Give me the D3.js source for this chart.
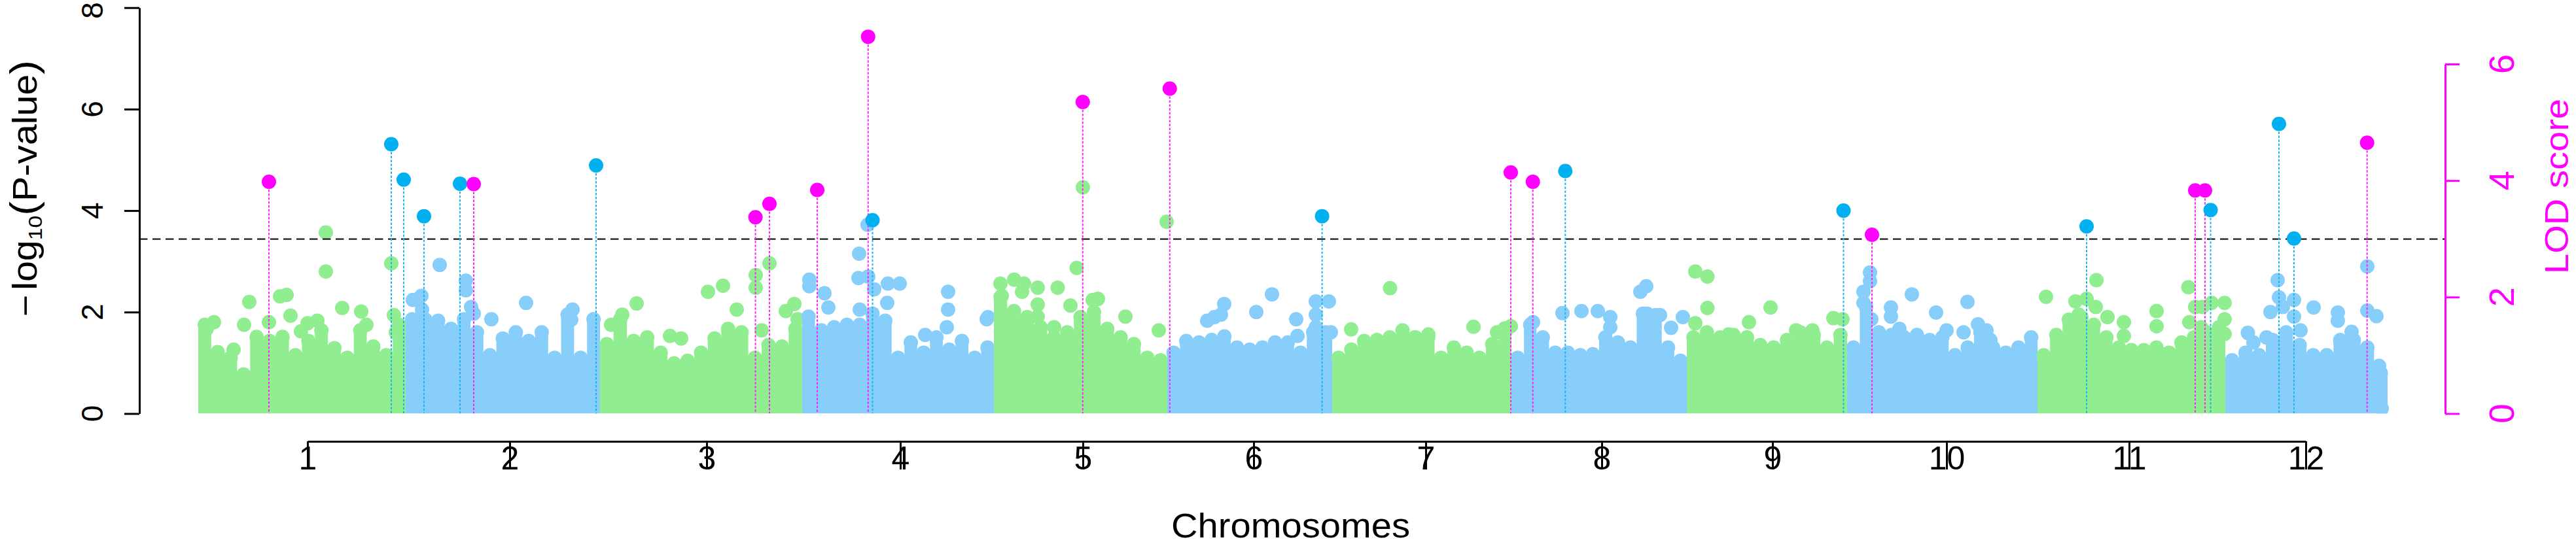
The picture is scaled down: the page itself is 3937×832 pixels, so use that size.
<!DOCTYPE html>
<html>
<head>
<meta charset="utf-8">
<script src="https://cdn.jsdelivr.net/npm/d3@7/dist/d3.min.js"></script>
<style>
html,body{margin:0;padding:0;background:#fff;}
svg{display:block;}
text{font-family:"Liberation Sans",Arial,Helvetica,sans-serif;}
</style>
</head>
<body>
<svg id="chart" width="3937" height="832"></svg>
<script>
// ---------------- DATA ----------------
const chromosomes = ["1","2","3","4","5","6","7","8","9","10","11","12"];
const chrLengths = [31.7, 29.7, 30.9, 29.3, 26.5, 25.2, 27.4, 26.8, 24.5, 29.1, 28.7, 24.8];
const chrTickPos = [16.7, 47.6, 77.7, 107.3, 135.2, 161.3, 187.6, 214.5, 240.6, 267.2, 295.1, 322.1];
const yTicks = [0, 2, 4, 6, 8];
const lodTicks = [0, 2, 4, 6];
const threshold = 3.44;

// upper edge of the dense SNP cloud (-log10 P), evenly spaced along each chromosome
const env1 = [1.75,1.21,1.10,0.77,1.51,1.43,1.51,1.15,1.43,1.64,1.29,1.10,1.64,1.32,1.15,1.75];
const env2 = [1.86,1.86,1.83,1.67,1.86,1.60,1.15,1.48,1.60,1.43,1.60,1.10,1.95,1.10,1.86];
const env3 = [1.37,1.86,1.43,1.50,1.20,0.99,1.04,1.20,1.48,1.67,1.60,1.10,1.35,1.32,1.67];
const env4 = [1.91,1.64,1.70,1.75,1.75,1.97,1.83,1.10,1.40,1.20,1.50,1.26,1.43,1.10,1.30];
const env5 = [2.30,2.02,1.90,1.70,1.50,1.60,1.90,2.00,1.67,1.50,1.37,1.10,1.05];
const env6 = [1.20,1.43,1.40,1.45,1.52,1.30,1.26,1.30,1.40,1.40,1.20,1.60,1.60];
const env7 = [1.10,1.26,1.43,1.45,1.50,1.50,1.50,1.50,1.10,1.30,1.20,1.10,1.37,1.60];
const env8 = [1.10,1.75,1.50,1.20,1.20,1.15,1.17,1.50,1.40,1.30,1.97,1.94,1.30,1.04];
const env9 = [1.50,1.60,1.50,1.55,1.50,1.35,1.30,1.45,1.60,1.55,1.30,1.55];
const env10 = [1.30,2.10,1.60,1.55,1.50,1.55,1.45,1.50,1.15,1.30,1.60,1.30,1.20,1.30,1.50];
const env11 = [1.15,1.55,1.85,1.90,1.75,1.50,1.30,1.25,1.25,1.30,1.20,1.40,1.50,1.60,1.70];
const env12 = [1.05,1.20,1.15,1.45,1.60,1.35,1.15,1.15,1.45,1.45,1.30,0.80];

// individual SNPs standing out of the cloud: [position within chromosome, -log10 P]
const pts1 = [[1.3,1.67],[2.4,1.80],[5.4,1.26],[7.0,1.75],[7.8,2.20],[10.8,1.80],[12.5,2.31],[13.5,2.34],[14.1,1.93],[15.7,1.62],[16.7,1.78],[18.2,1.83],[19.5,3.57],[19.5,2.80],[22.0,2.08],[24.9,2.01],[25.7,1.75],[29.5,2.96],[29.9,1.94],[30.2,1.60]];
const pts2 = [[1.1,2.24],[2.4,2.32],[2.5,2.05],[5.2,2.93],[9.2,2.62],[9.2,2.43],[10.0,2.10],[10.4,1.97],[13.1,1.86],[18.4,2.18],[25.5,2.05],[25.3,1.85]];
const pts3 = [[1.7,1.75],[3.4,1.95],[5.6,2.17],[10.7,1.53],[12.4,1.48],[16.5,2.40],[18.8,2.52],[20.9,2.05],[23.8,2.73],[23.8,2.48],[24.7,1.64],[25.9,2.96],[28.4,2.02],[29.7,2.16],[30.2,1.86]];
const pts4 = [[1.1,2.64],[1.1,2.51],[3.4,2.37],[4.0,2.09],[8.6,2.67],[8.7,3.15],[10.0,3.72],[10.1,2.70],[11.0,2.45],[8.8,2.05],[13.1,2.56],[14.9,2.56],[13.0,2.18],[22.3,2.40],[22.3,2.05],[22.1,1.70],[28.2,1.86],[18.8,1.55],[28.4,1.90]];
const pts5 = [[1.0,2.56],[1.2,2.32],[3.1,2.64],[4.6,2.56],[4.3,2.40],[6.7,2.48],[6.7,2.15],[6.7,1.91],[9.75,2.48],[12.65,2.87],[13.6,4.46],[15.1,2.24],[15.9,2.26],[20.1,1.91],[25.2,1.64],[11.7,2.13],[9.2,1.70],[26.4,3.78]];
const pts6 = [[6.1,1.83],[7.2,1.90],[8.7,2.16],[8.2,1.95],[13.6,2.00],[16.0,2.35],[19.7,1.86],[19.9,1.53],[22.7,2.21],[22.7,1.95],[22.7,1.70],[24.7,2.21],[25.0,1.60]];
const pts7 = [[2.9,1.66],[8.85,2.47],[10.75,1.64],[12.6,1.50],[14.7,1.56],[21.6,1.71],[25.2,1.60],[26.4,1.68],[27.3,1.72]];
const pts8 = [[3.3,1.80],[7.8,1.98],[10.7,2.02],[13.2,2.02],[15.1,1.90],[15.1,1.70],[19.7,2.40],[20.6,2.51],[20.7,1.97],[22.7,1.94],[24.4,1.69],[26.2,1.90]];
const pts9 = [[1.3,2.80],[3.15,2.70],[3.15,2.08],[1.3,1.78],[9.5,1.80],[12.8,2.09],[16.7,1.64],[19.2,1.64],[22.4,1.88],[23.8,1.86],[6.4,1.56]];
const pts10 = [[2.5,2.40],[2.5,2.18],[3.5,2.78],[3.5,2.61],[3.7,1.86],[6.7,2.09],[6.7,1.91],[9.9,2.35],[8.0,1.67],[13.6,1.99],[15.2,1.64],[17.8,1.60],[18.4,2.20],[20.0,1.76],[21.3,1.64],[21.9,1.45]];
const pts11 = [[1.3,2.30],[5.8,2.21],[7.5,2.26],[9.0,2.63],[8.9,2.10],[6.3,1.95],[10.7,1.90],[13.2,1.80],[13.2,1.53],[18.2,2.02],[18.2,1.72],[23.05,2.49],[24.1,2.10],[25.2,2.10],[26.6,2.18],[23.2,1.80],[25.0,1.70],[28.6,2.18],[28.6,1.86],[28.6,1.57]];
const pts12 = [[3.45,1.59],[4.3,1.40],[6.3,1.50],[6.9,2.00],[8.0,2.63],[8.2,2.29],[8.8,2.10],[10.5,2.24],[10.5,1.91],[11.5,1.64],[13.5,2.09],[17.2,1.99],[17.2,1.83],[19.3,1.61],[21.7,2.90],[21.7,2.03],[23.1,1.92],[23.5,0.94],[23.7,0.58],[23.9,0.10]];

// significant GWAS SNPs: [chromosome, position, -log10 P]
const gwasHits = [[1,29.5,5.31],[1,31.4,4.61],[2,2.8,3.89],[2,8.3,4.53],[2,29.1,4.89],[4,10.75,3.81],[6,23.66,3.89],[8,8.23,4.78],[9,23.95,4.00],[11,7.5,3.69],[11,26.46,4.01],[12,8.2,5.71],[12,10.5,3.45]];
// QTL peaks on the LOD axis: [chromosome, position, LOD]
const lodPeaks = [[1,10.8,3.98],[2,10.4,3.94],[3,23.76,3.37],[3,25.9,3.60],[4,2.3,3.84],[4,10.08,6.47],[5,13.58,5.35],[6,0.38,5.58],[7,27.3,4.14],[8,3.27,3.98],[10,3.8,3.07],[11,24.1,3.83],[11,25.6,3.83],[12,21.67,4.65]];

const envelopes = [env1,env2,env3,env4,env5,env6,env7,env8,env9,env10,env11,env12];
const scattered = [pts1,pts2,pts3,pts4,pts5,pts6,pts7,pts8,pts9,pts10,pts11,pts12];

// ---------------- STYLE ----------------
const colOdd = "#90EE90", colEven = "#87CEFA";
const colHit = "#00B0F0", colLod = "#FF00FF";
const R = 11;

// ---------------- SCALES ----------------
const svg = d3.select("#chart");
const plotL = 213, plotR = 3737, plotT = 11.7, plotB = 632.5;
const chrStarts = [];
chrLengths.reduce((acc, l) => { chrStarts.push(acc); return acc + l; }, 0);
const total = d3.sum(chrLengths);
const x = d3.scaleLinear().domain([0, total]).range([303, 3649]);
const y = d3.scaleLinear().domain([0, 8]).range([plotB, plotT]);
const yLod = d3.scaleLinear().domain([0, 6]).range([plotB, 98]);
const gx = (c, p) => x(chrStarts[c - 1] + p);

svg.append("defs").append("clipPath").attr("id", "plotclip")
  .append("rect").attr("x", plotL).attr("y", plotT).attr("width", plotR - plotL).attr("height", plotB - plotT);

const gPlot = svg.append("g").attr("clip-path", "url(#plotclip)");

// ---------------- SNP CLOUD ----------------
const area = d3.area().x(d => d[0]).y0(y(0)).y1(d => y(d[1])).curve(d3.curveStep);
envelopes.forEach((env, i) => {
  const col = i % 2 === 0 ? colOdd : colEven;
  const len = chrLengths[i], n = env.length;
  const samples = env.map((v, k) => [chrStarts[i] + (k + 0.5) * len / n, v]);
  const areaPts = [[x(chrStarts[i]), env[0]]]
    .concat(samples.map(s => [x(s[0]), s[1]]))
    .concat([[x(chrStarts[i] + len), env[n - 1]]]);
  const g = gPlot.append("g").attr("fill", col);
  g.append("path").attr("d", area(areaPts));
  g.selectAll("circle.env").data(samples).join("circle")
    .attr("cx", d => x(d[0])).attr("cy", d => y(d[1])).attr("r", R);
  g.selectAll("circle.pt").data(scattered[i]).join("circle")
    .attr("cx", d => gx(i + 1, d[0])).attr("cy", d => y(d[1])).attr("r", R);
});

// ---------------- THRESHOLD ----------------
svg.append("line").attr("x1", plotL).attr("x2", plotR).attr("y1", y(threshold)).attr("y2", y(threshold))
  .attr("stroke", "#1a1a1a").attr("stroke-width", 2.2).attr("stroke-dasharray", "12.5,7.5");

// ---------------- DROP LINES + HIGHLIGHTS ----------------
const gHi = svg.append("g").attr("clip-path", "url(#plotclip)");
gHi.selectAll("line.hit").data(gwasHits).join("line")
  .attr("x1", d => gx(d[0], d[1])).attr("x2", d => gx(d[0], d[1]))
  .attr("y1", d => y(d[2])).attr("y2", y(0))
  .attr("stroke", "#22B2EC").attr("stroke-width", 2).attr("stroke-dasharray", "3.5,2.5");
gHi.selectAll("line.lod").data(lodPeaks).join("line")
  .attr("x1", d => gx(d[0], d[1])).attr("x2", d => gx(d[0], d[1]))
  .attr("y1", d => yLod(d[2])).attr("y2", y(0))
  .attr("stroke", "#FF22FF").attr("stroke-width", 2).attr("stroke-dasharray", "3.5,2.5");
gHi.selectAll("circle.hit").data(gwasHits).join("circle")
  .attr("cx", d => gx(d[0], d[1])).attr("cy", d => y(d[2])).attr("r", R).attr("fill", colHit);
gHi.selectAll("circle.lod").data(lodPeaks).join("circle")
  .attr("cx", d => gx(d[0], d[1])).attr("cy", d => yLod(d[2])).attr("r", R).attr("fill", colLod);

// ---------------- AXES ----------------
const FONT = '"Liberation Sans", Arial, Helvetica, sans-serif';
// left axis
const axL = svg.append("g").attr("transform", `translate(${plotL},0)`)
  .call(d3.axisLeft(y).tickValues(yTicks).tickSize(23).tickSizeOuter(0).tickFormat(""));
axL.selectAll("path,line").attr("stroke", "#000").attr("stroke-width", 3);
svg.append("g").selectAll("text").data(yTicks).join("text")
  .attr("transform", d => `translate(157,${Math.max(y(d), 16)}) rotate(-90)`)
  .attr("text-anchor", "middle").attr("font-size", 46).attr("fill", "#000").text(d => d);

// right LOD axis
const axR = svg.append("g").attr("transform", `translate(${plotR},0)`)
  .call(d3.axisRight(yLod).tickValues(lodTicks).tickSize(22).tickSizeOuter(0).tickFormat(""));
axR.selectAll("path,line").attr("stroke", colLod).attr("stroke-width", 3);
svg.append("g").selectAll("text").data(lodTicks).join("text")
  .attr("transform", d => `translate(3842,${yLod(d)}) rotate(-90)`)
  .attr("text-anchor", "middle").attr("font-size", 54).attr("fill", colLod).text(d => d);

// chromosome axis
const xt = d3.scaleLinear().domain([chrTickPos[0], chrTickPos[chrTickPos.length - 1]])
  .range([x(chrTickPos[0]), x(chrTickPos[chrTickPos.length - 1])]);
const axB = svg.append("g").attr("transform", "translate(0,675)")
  .call(d3.axisBottom(xt).tickValues(chrTickPos).tickSize(43).tickSizeOuter(0)
    .tickFormat((d, i) => chromosomes[i]));
axB.selectAll("path,line").attr("stroke", "#000").attr("stroke-width", 3);
axB.selectAll("text").attr("y", 43).attr("dy", 0).attr("font-size", 50)
  .attr("font-family", FONT).attr("fill", "#000");

// ---------------- TITLES ----------------
svg.append("text").attr("x", 1972.5).attr("y", 822).attr("text-anchor", "middle")
  .attr("font-size", 51).attr("textLength", 365).attr("lengthAdjust", "spacingAndGlyphs")
  .text("Chromosomes");

const yt = svg.append("text").attr("transform", "translate(56,288) rotate(-90)")
  .attr("text-anchor", "middle").attr("font-size", 51)
  .attr("textLength", 392).attr("lengthAdjust", "spacingAndGlyphs");
yt.append("tspan").text("\u2212");
yt.append("tspan").attr("dx", 6).text("log");
yt.append("tspan").attr("font-size", 30).attr("dy", 8).text("10");
yt.append("tspan").attr("font-size", 58).attr("dy", -8).text("(");
yt.append("tspan").text("P-value");
yt.append("tspan").attr("font-size", 58).text(")");

svg.append("text").attr("transform", "translate(3925,285) rotate(-90)")
  .attr("text-anchor", "middle").attr("font-size", 50).attr("fill", colLod)
  .attr("textLength", 268).attr("lengthAdjust", "spacingAndGlyphs")
  .text("LOD score");
</script>
</body>
</html>
